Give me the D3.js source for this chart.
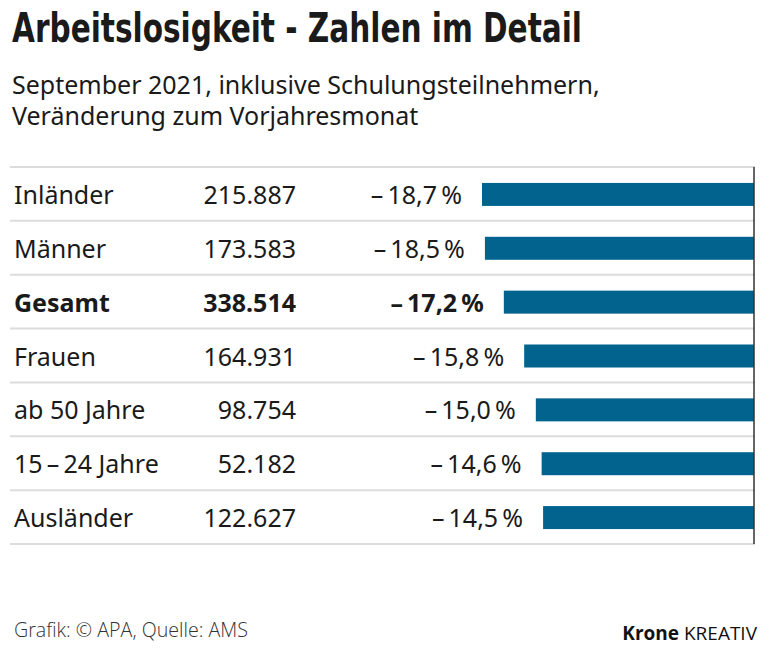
<!DOCTYPE html>
<html><head><meta charset="utf-8">
<script src="https://cdn.jsdelivr.net/npm/d3@7"></script>
<style>body{margin:0;background:#fff}svg{display:block}</style>
</head><body>
<script>
const categories = ["Inländer","Männer","Gesamt","Frauen","ab 50 Jahre","15\u2009–\u200924 Jahre","Ausländer"];
const counts = ["215.887","173.583","338.514","164.931","98.754","52.182","122.627"];
const changes = [-18.7,-18.5,-17.2,-15.8,-15.0,-14.6,-14.5];
const boldRow = "Gesamt";

const W=771,H=657;
const svg=d3.select("body").append("svg").attr("width",W).attr("height",H);
const dark="#1a1a1a";

svg.append("text").attr("x",12).attr("y",42)
  .attr("font-family","'Liberation Sans Narrow','DejaVu Sans Condensed',sans-serif")
  .attr("font-weight",700).attr("font-size",41).attr("fill",dark)
  .attr("textLength",570).attr("lengthAdjust","spacingAndGlyphs")
  .text("Arbeitslosigkeit - Zahlen im Detail");

const sub=["September 2021, inklusive Schulungsteilnehmern,","Veränderung zum Vorjahresmonat"];
svg.selectAll("text.sub").data(sub).join("text").attr("class","sub")
  .attr("x",12).attr("y",(d,i)=>94+i*31)
  .attr("font-family","'Noto Sans',sans-serif").attr("font-size",25).attr("fill",dark)
  .text(d=>d);

const y=d3.scaleBand().domain(categories).range([167,544]).padding(0);
const x=d3.scaleLinear().domain([-20,0]).range([754-20*272/18.7,754]);

const g=svg.append("g");
g.selectAll("line.sep").data(d3.range(categories.length+1)).join("line")
  .attr("x1",10).attr("x2",755)
  .attr("y1",i=>i<categories.length?y(categories[i]):y.range()[1])
  .attr("y2",i=>i<categories.length?y(categories[i]):y.range()[1])
  .attr("stroke","#dcdcdc").attr("stroke-width",2);

const barH=23;
g.selectAll("rect.bar").data(categories).join("rect")
  .attr("x",(d,i)=>x(changes[i]))
  .attr("width",(d,i)=>x(0)-x(changes[i]))
  .attr("y",d=>y(d)+y.bandwidth()/2-barH/2+0.5)
  .attr("height",barH).attr("fill","#02638f");

g.append("line").attr("x1",x(0)).attr("x2",x(0)).attr("y1",167).attr("y2",544)
  .attr("stroke","#333").attr("stroke-width",1.5);

const font="'Noto Sans',sans-serif";
const rows=g.selectAll("g.row").data(categories).join("g")
  .attr("transform",d=>`translate(0,${y(d)+y.bandwidth()/2+10})`)
  .attr("font-family",font).attr("font-size",25).attr("fill",dark)
  .attr("font-weight",d=>d===boldRow?700:400);
rows.append("text").attr("x",14).text(d=>d);
rows.append("text").attr("x",296).attr("text-anchor","end").text((d,i)=>counts[i]);
rows.append("text").attr("x",(d,i)=>x(changes[i])-20).attr("text-anchor","end")
  .text((d,i)=>"–\u2009"+d3.format(".1f")(Math.abs(changes[i])).replace(".",",")+"\u202F%");

svg.append("text").attr("x",14).attr("y",637)
  .attr("font-family","'Open Sans',sans-serif").attr("font-weight",300).attr("font-size",20).attr("fill","#333")
  .attr("textLength",234).attr("lengthAdjust","spacingAndGlyphs")
  .text("Grafik: © APA, Quelle: AMS");
const k=svg.append("text").attr("x",757).attr("y",640).attr("text-anchor","end")
  .attr("font-family","'Open Sans',sans-serif").attr("font-size",19).attr("fill","#111");
k.append("tspan").attr("font-weight",700).text("Krone");
k.append("tspan").attr("font-weight",400).text(" KREATIV");
</script>
</body></html>
